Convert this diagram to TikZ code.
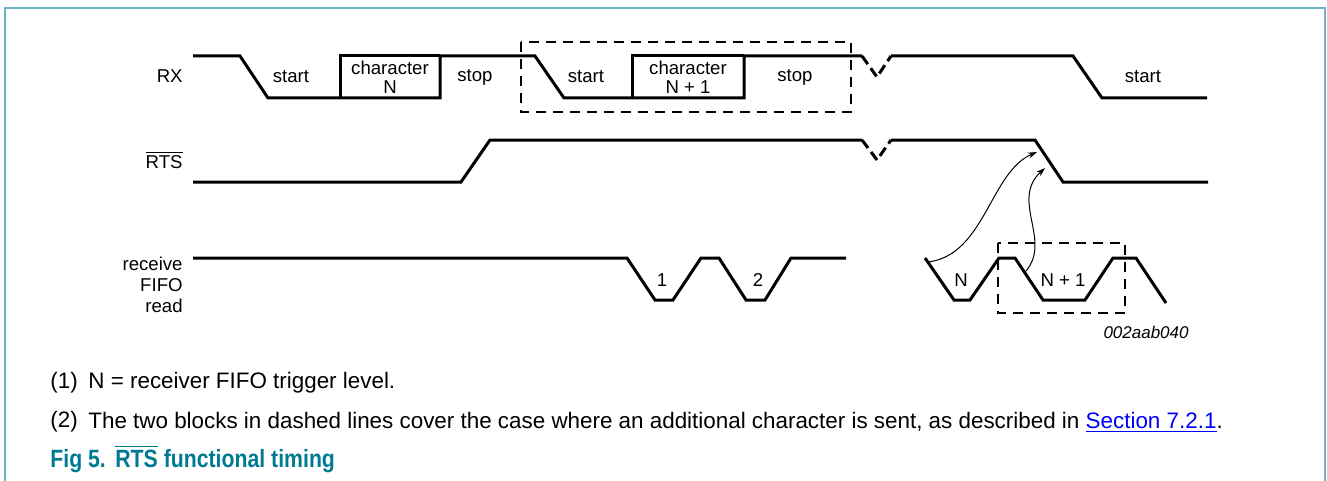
\documentclass[tikz,border=0pt]{standalone}
\usepackage{fontspec}
\setmainfont{Liberation Sans}
\newfontfamily\titlefont[FakeStretch=0.85]{Liberation Sans}
\usetikzlibrary{arrows.meta}

\definecolor{framecol}{RGB}{110,178,196}
\definecolor{titlecol}{RGB}{0,122,145}
\definecolor{linkcol}{RGB}{0,0,255}

\tikzset{
    sig/.style={line width=1.5pt, line join=miter},
    sigbreak/.style={line width=1.5pt, dash pattern=on 5pt off 2.5pt},
    dbox/.style={line width=0.7pt, dash pattern=on 5pt off 3.5pt},
    lbl/.style={font=\fontsize{9.3}{9.6}\selectfont, inner sep=0pt, align=center},
    notetext/.style={font=\fontsize{11.2}{13}\selectfont, inner sep=0pt, anchor=west},
    figtitletext/.style={inner sep=0pt, anchor=base west, text=titlecol, font=\titlefont\fontsize{12.5}{14}\bfseries},
    curarr/.style={line width=0.5pt, -{Stealth[length=4.5pt,width=3pt]}}
}

\begin{document}
\begin{tikzpicture}[x=0.5pt, y=-0.5pt]
            \useasboundingbox (0,0) rectangle (1327,481);
            \draw[framecol, line width=1pt] (5,481) -- (5,8) -- (1325,8) -- (1325,481);

            % signal names
            \node[lbl, anchor=east] (rxname) at (183,76) {RX};
            \node[lbl, anchor=east] (rtsname) at (183,160) {$\overline{\hbox{RTS}}$};
            \node[lbl, anchor=east, align=right, font=\fontsize{9.3}{10.5}\selectfont] (fifoname) at (183,285) {receive\\FIFO\\read};

            % RX
            \draw[sig] (193,56) -- (240,56) -- (268,98) -- (440,98) -- (440,56) -- (535,56) -- (564,98) -- (744,98) -- (744,56) -- (862,56);
            \draw[sig] (340,98) -- (340,56) -- (440,56);
            \draw[sig] (632,98) -- (632,56) -- (744,56);
            \draw[sigbreak] (862,56) -- (877,77) -- (891,56);
            \draw[sig] (891,56) -- (1073,56) -- (1102,98) -- (1207,98);

            \node[lbl] (start1) at (291,77) {start};
            \node[lbl] (charn) at (390,77) {character\\N};
            \node[lbl] (stop1) at (475,77) {stop};
            \node[lbl] (start2) at (586,77) {start};
            \node[lbl] (charn1) at (688,77) {character\\N + 1};
            \node[lbl] (stop2) at (795,77) {stop};
            \node[lbl] (start3) at (1143,77) {start};
            \draw[dbox] (521,42) rectangle (851,112);

            % RTS
            \draw[sig] (193,182) -- (461,182) -- (490,140) -- (862,140);
            \draw[sigbreak] (862,140) -- (877,160) -- (891,140);
            \draw[sig] (891,140) -- (1035,140) -- (1063,182) -- (1208,182);

            % receive FIFO read
            \draw[sig] (193,258) -- (627,258) -- (655,300) -- (673,300) -- (701,258) -- (719,258) -- (746,300) -- (765,300) -- (791,258) -- (846,258);
            \draw[sig] (925,258) -- (954,300) -- (970,300) -- (999,258) -- (1015,258) -- (1043,300) -- (1085,300) -- (1113,258) -- (1136,258) -- (1166,303);
            \node[lbl] (rd1) at (662,280) {1};
            \node[lbl] (rd2) at (758,280) {2};
            \node[lbl] (rdn) at (961,280) {N};
            \node[lbl] (rdn1) at (1063,280) {N + 1};
            \draw[dbox] (998,243) rectangle (1125,313);

            \coordinate (n1) at (928,262);
            \coordinate (e1) at (1037,152);
            \coordinate (n2) at (1026,271);
            \coordinate (e2) at (1045,168);
            \draw[curarr] (n1) .. controls (985,255) and (990,172) .. (e1);
            \draw[curarr] (n2) .. controls (1052,240) and (1010,200) .. (e2);

            \node[lbl, anchor=east, font=\fontsize{8.5}{10}\itshape] (figid) at (1189,332) {002aab040};

            % notes
            \node[notetext] (note1) at (50,383) {(1)};
            \node[notetext] (note1t) at (88,383) {N = receiver FIFO trigger level.};
            \node[notetext] (note2) at (50,422) {(2)};
            \node[notetext] (note2t) at (88,422) {The two blocks in dashed lines cover the case where an additional character is sent, as described in \textcolor{linkcol}{\underline{Section 7.2.1}}.};
            \node[figtitletext] (fignum) at (50,467) {Fig 5.};
            \node[figtitletext] (figtitle) at (115,467) {$\overline{\hbox{RTS}}$ functional timing};
        \end{tikzpicture}
\end{document}
